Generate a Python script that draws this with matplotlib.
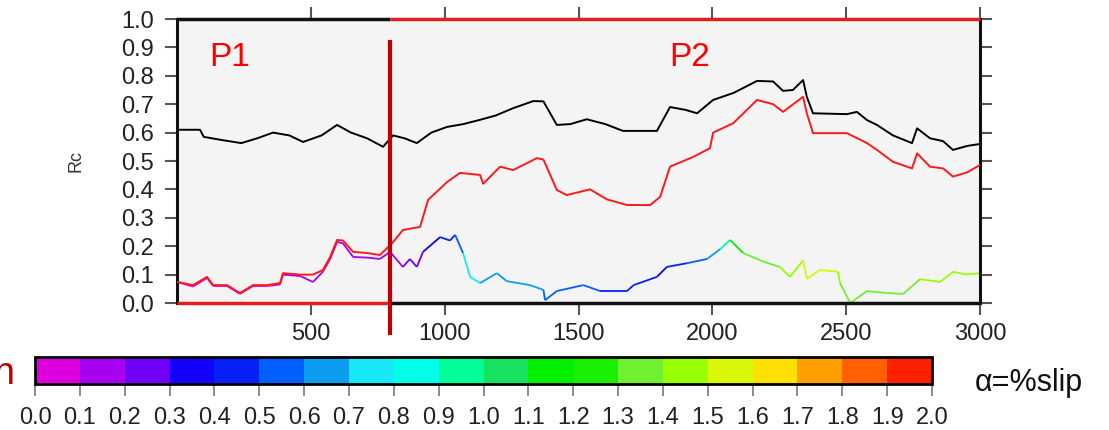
import numpy as np
import matplotlib
matplotlib.use("Agg")
import matplotlib.pyplot as plt
from matplotlib.collections import LineCollection
from matplotlib.colors import ListedColormap, BoundaryNorm
from matplotlib.cm import ScalarMappable

plt.rcParams['font.family'] = ['Liberation Sans', 'DejaVu Sans']

# black series (Rc)
black_x = [0, 86, 100, 160, 240, 300, 359, 420, 471, 540, 598, 650, 710, 770, 807, 850, 896, 950,
           1009, 1070, 1132, 1190, 1256, 1331, 1369, 1419, 1470, 1531, 1600, 1666, 1793, 1842,
           1900, 1943, 2003, 2080, 2167, 2227, 2264, 2301, 2339, 2353, 2376, 2503, 2540, 2578,
           2615, 2675, 2746, 2765, 2813, 2862, 2899, 2952, 3000]
black_y = [0.61, 0.61, 0.585, 0.575, 0.563, 0.58, 0.60, 0.59, 0.567, 0.59, 0.627, 0.60, 0.58,
           0.55, 0.59, 0.58, 0.563, 0.60, 0.62, 0.63, 0.645, 0.66, 0.686, 0.711, 0.71, 0.627,
           0.63, 0.647, 0.63, 0.606, 0.606, 0.69, 0.68, 0.668, 0.715, 0.74, 0.782, 0.78, 0.747,
           0.75, 0.785, 0.726, 0.668, 0.665, 0.673, 0.644, 0.627, 0.59, 0.563, 0.615, 0.58,
           0.57, 0.539, 0.553, 0.56]

# red series
red_x = [0, 60, 112, 135, 187, 235, 284, 336, 385, 396, 460, 508, 545, 572, 598, 620, 658, 710,
         758, 803, 844, 908, 938, 1009, 1057, 1132, 1144, 1207, 1256, 1344, 1369, 1419, 1456,
         1543, 1606, 1681, 1768, 1805, 1842, 1930, 1991, 2003, 2078, 2167, 2227, 2264, 2339,
         2353, 2376, 2503, 2578, 2615, 2675, 2746, 2765, 2813, 2862, 2899, 2952, 3000]
red_y = [0.074, 0.063, 0.092, 0.063, 0.063, 0.035, 0.063, 0.063, 0.07, 0.105, 0.10, 0.10, 0.116,
         0.162, 0.222, 0.22, 0.18, 0.176, 0.169, 0.21, 0.257, 0.268, 0.363, 0.426, 0.458, 0.451,
         0.42, 0.48, 0.468, 0.51, 0.505, 0.398, 0.38, 0.40, 0.365, 0.345, 0.345, 0.374, 0.48,
         0.515, 0.545, 0.60, 0.633, 0.715, 0.70, 0.673, 0.726, 0.668, 0.598, 0.598, 0.563,
         0.539, 0.497, 0.474, 0.527, 0.48, 0.474, 0.445, 0.46, 0.486]

# coloured series, coloured by alpha (%slip)
col_x = [0, 60, 112, 135, 187, 235, 284, 336, 385, 396, 460, 508, 545, 572, 598, 620, 658, 710,
         758, 796, 844, 870, 896, 919, 983, 1020, 1039, 1069, 1095, 1132, 1195, 1232, 1319,
         1369, 1375, 1419, 1518, 1581, 1681, 1706, 1793, 1830, 1905, 1980, 2030, 2066, 2115,
         2190, 2252, 2290, 2339, 2353, 2402, 2470, 2477, 2515, 2578, 2653, 2713, 2776, 2851,
         2899, 2952, 3000]
col_y = [0.074, 0.058, 0.088, 0.06, 0.06, 0.032, 0.06, 0.06, 0.065, 0.10, 0.095, 0.074, 0.11,
         0.155, 0.215, 0.21, 0.162, 0.16, 0.155, 0.18, 0.127, 0.155, 0.127, 0.18, 0.232, 0.22,
         0.24, 0.175, 0.092, 0.07, 0.105, 0.077, 0.063, 0.046, 0.01, 0.042, 0.063, 0.042,
         0.042, 0.063, 0.092, 0.127, 0.14, 0.155, 0.19, 0.222, 0.176, 0.146, 0.127, 0.092,
         0.15, 0.085, 0.116, 0.11, 0.07, 0.0, 0.042, 0.035, 0.032, 0.084, 0.074, 0.11, 0.10,
         0.105]
col_a = [0.05, 0.05, 0.05, 0.05, 0.05, 0.05, 0.05, 0.05, 0.05, 0.15, 0.15, 0.15, 0.15, 0.15,
         0.15, 0.15, 0.15, 0.15, 0.15, 0.15, 0.25, 0.25, 0.25, 0.35, 0.45, 0.45, 0.55, 0.75,
         0.75, 0.65, 0.65, 0.65, 0.65, 0.55, 0.55, 0.55, 0.55, 0.45, 0.45, 0.45, 0.35, 0.45,
         0.55, 0.65, 0.95, 1.15, 1.35, 1.35, 1.45, 1.45, 1.55, 1.55, 1.55, 1.45, 1.35, 1.35,
         1.35, 1.35, 1.35, 1.45, 1.45, 1.45, 1.45, 1.45]

slip_colors = ['#dd00dd', '#a800f0', '#7000f8', '#1400ff', '#0820f8', '#0060ff', '#0c9cf0',
               '#18e8f8', '#00ffe8', '#00ff98', '#18e060', '#00f000', '#18f000', '#70f030',
               '#98ff00', '#d8f808', '#ffe000', '#ffa000', '#ff6000', '#ff2000']
slip_bounds = np.linspace(0, 2, 21)

split_x = 795

fig = plt.figure(figsize=(11.09, 4.30), dpi=100)
ax = fig.add_axes([177/1109, 1-303/430, 803/1109, 284/430])
ax.set_facecolor('#f4f4f4')

cmap = ListedColormap(slip_colors)
norm = BoundaryNorm(slip_bounds, cmap.N)

pts = np.column_stack([col_x, col_y])
segs = np.stack([pts[:-1], pts[1:]], axis=1)
lc = LineCollection(segs, cmap=cmap, norm=norm, linewidths=1.3, zorder=2)
lc.set_array(np.array(col_a[:-1]))
ax.add_collection(lc)

ax.plot(black_x, black_y, color='black', lw=1.4, zorder=3)
ax.plot(red_x, red_y, color='#ff1a1a', lw=1.4, zorder=3)

ax.set_xlim(0, 3000)
ax.set_ylim(0, 1)
ax.set_xticks([500, 1000, 1500, 2000, 2500, 3000])
ax.set_yticks(np.arange(0, 1.01, 0.1))
ax.set_yticklabels(['%.1f' % v for v in np.arange(0, 1.01, 0.1)])
ax.tick_params(direction='out', length=8.5, width=1.5, color='#555555',
               labelsize=17, labelcolor='#222222', top=True, right=True)
ax.tick_params(axis='y', pad=8)
ax.tick_params(axis='x', pad=6)

for s in ['top', 'bottom']:
    ax.spines[s].set_visible(False)
for s in ['left', 'right']:
    ax.spines[s].set_linewidth(2.2)
    ax.spines[s].set_color('#111111')

ax.hlines(1.0, 0, split_x, color='#111111', lw=2.5, clip_on=False, zorder=5)
ax.hlines(1.0, split_x, 3000, color='#e02020', lw=2.5, clip_on=False, zorder=5)
ax.hlines(0.0, 0, split_x, color='#e02020', lw=2.5, clip_on=False, zorder=5)
ax.hlines(0.0, split_x, 3000, color='#111111', lw=2.5, clip_on=False, zorder=5)
ax.plot([split_x, split_x], [0.919, -0.106], color='#c00000', lw=3, clip_on=False, zorder=6)

ax.set_ylabel('Rc', fontsize=13, color='#333333')
ax.yaxis.set_label_coords(-0.115, 0.5)
ax.text(198, 0.863, 'P1', color='#ff0000', fontsize=24, ha='center', va='center')
ax.text(1916, 0.863, 'P2', color='#ff0000', fontsize=24, ha='center', va='center')

# colour bar for alpha
cax = fig.add_axes([35/1109, 1-384/430, 897/1109, 27/430])
cb = fig.colorbar(ScalarMappable(norm=norm, cmap=cmap), cax=cax, orientation='horizontal',
                  ticks=slip_bounds)
cb.set_ticklabels(['%.1f' % v for v in slip_bounds])
cb.outline.set_linewidth(2)
cb.outline.set_edgecolor('black')
cax.tick_params(direction='out', length=8.5, width=1.2, color='#777777',
                labelsize=17, labelcolor='#222222', pad=8)

fig.text(975/1109, 1-383/430, 'α=%slip', fontsize=22, color='#111111', ha='left', va='center')
fig.text(14/1109, 1-384/430, 'n', fontsize=27, color='#c00000', ha='right', va='baseline')

fig.savefig('out.png', dpi=100)
